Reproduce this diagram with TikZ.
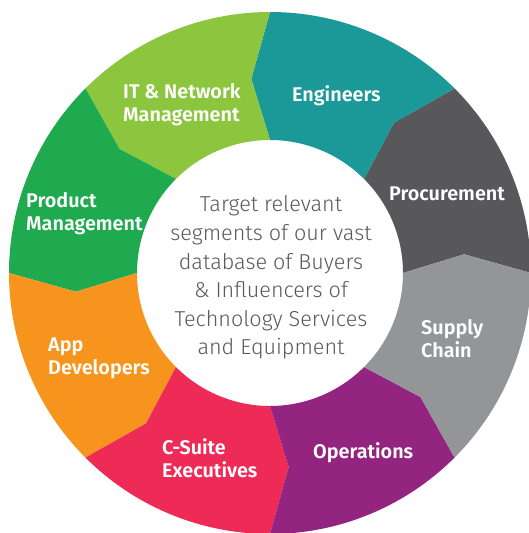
\documentclass[tikz,border=0pt]{standalone}
\usepackage{fontspec}
\setmainfont{Fira Sans}
\newfontfamily\lightfont{Fira Sans Light}
\newfontfamily\labfont{Fira Sans SemiBold}
\definecolor{cIT}{HTML}{8CC63F}
\definecolor{cEng}{HTML}{1B9898}
\definecolor{cProc}{HTML}{58585B}
\definecolor{cSup}{HTML}{939598}
\definecolor{cOps}{HTML}{93247F}
\definecolor{cCS}{HTML}{EE2B56}
\definecolor{cApp}{HTML}{F7941D}
\definecolor{cProd}{HTML}{1FAA4F}
\definecolor{ctext}{HTML}{58595B}
\newcommand\wheelseg[2]{%
  \fill[#2] (#1:261) -- ({#1+5.5}:195) -- (#1:133)
    arc[start angle=#1, end angle={#1+45}, radius=133]
    -- ({#1+50.5}:195) -- ({#1+45}:261)
    arc[start angle={#1+45}, end angle=#1, radius=261] -- cycle;}
\tikzset{lab/.style={anchor=base west, inner sep=0pt, text=white, align=left,
  font=\labfont\fontsize{19.8}{23}\selectfont}}
\begin{document}
\begin{tikzpicture}[x=1pt,y=1pt]
\useasboundingbox (0,0) rectangle (529,533);
\begin{scope}[shift={(270,260)}]
\wheelseg{0}{cProc}
\wheelseg{45}{cEng}
\wheelseg{90}{cIT}
\wheelseg{135}{cProd}
\wheelseg{180}{cApp}
\wheelseg{225}{cCS}
\wheelseg{270}{cOps}
\wheelseg{315}{cSup}
\end{scope}
\node[lab] (it) at (123,411) {IT \& Network\\Management};
\node[lab] (eng) at (292,431) {Engineers};
\node[lab] (proc) at (389,332) {Procurement};
\node[lab] (sup) at (421,175) {Supply\\Chain};
\node[lab] (ops) at (313,74) {Operations};
\node[lab] (cs) at (162,55) {C-Suite\\Executives};
\node[lab] (app) at (48,158) {App\\Developers};
\node[lab] (prod) at (26,302) {Product\\Management};
\node[anchor=base, inner sep=0pt, align=center, text=ctext,
  font=\lightfont\fontsize{21.6}{28.6}\selectfont] (center) at (271,178)
  {Target relevant\\segments of our vast\\database of Buyers\\\& Influencers of\\Technology Services\\and Equipment};
\end{tikzpicture}
\end{document}
